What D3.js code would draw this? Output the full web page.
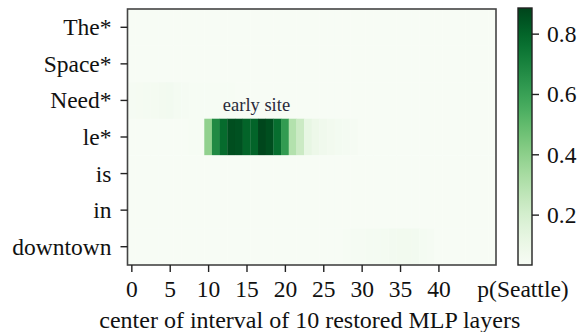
<!DOCTYPE html>
<html>
<head>
<meta charset="utf-8"/>
<title>Restored MLP heatmap</title>
<script src="https://cdn.jsdelivr.net/npm/d3@7"></script>
<style>
 body { margin: 0; background: #fff; }
 svg, svg g, svg text { font-family: "Liberation Serif", "DejaVu Serif", serif !important; }
 svg text { fill: #111; }
</style>
</head>
<body>
<div id="chart"></div>
<script>
// tokens on the y axis, top to bottom
var tokens = ["The*", "Space*", "Need*", "le*", "is", "in", "downtown"];
// layer index of each column (center of restored interval)
var layers = d3.range(48);
var xTicks = [0, 5, 10, 15, 20, 25, 30, 35, 40];
var cbarTicks = [0.2, 0.4, 0.6, 0.8];

// p(Seattle) per token row, one value per layer column
var rowThe = [0.035,0.035,0.035,0.035,0.035,0.035,0.035,0.035,0.035,0.035,0.035,0.035,0.035,0.035,0.035,0.035,0.035,0.035,0.035,0.035,0.035,0.035,0.035,0.035,0.035,0.035,0.035,0.035,0.035,0.035,0.035,0.035,0.035,0.035,0.035,0.035,0.035,0.035,0.035,0.035,0.035,0.035,0.035,0.035,0.035,0.035,0.035,0.035];
var rowSpace = [0.035,0.035,0.035,0.035,0.035,0.035,0.035,0.035,0.035,0.035,0.035,0.035,0.035,0.035,0.035,0.035,0.035,0.035,0.035,0.035,0.035,0.035,0.035,0.035,0.035,0.035,0.035,0.035,0.035,0.035,0.035,0.035,0.035,0.035,0.035,0.035,0.035,0.035,0.035,0.035,0.035,0.035,0.035,0.035,0.035,0.035,0.035,0.035];
var rowNeed = [0.045,0.047,0.05,0.052,0.058,0.06,0.05,0.043,0.036,0.037,0.04,0.04,0.04,0.038,0.035,0.035,0.035,0.035,0.035,0.035,0.035,0.035,0.035,0.035,0.035,0.035,0.035,0.035,0.035,0.035,0.035,0.035,0.035,0.035,0.035,0.035,0.035,0.035,0.035,0.035,0.035,0.035,0.035,0.035,0.035,0.035,0.035,0.035];
var rowLe = [0.035,0.035,0.035,0.035,0.035,0.035,0.035,0.035,0.038,0.04,0.39,0.68,0.78,0.86,0.85,0.8,0.8,0.88,0.86,0.77,0.62,0.3,0.23,0.12,0.09,0.075,0.065,0.055,0.05,0.045,0.035,0.035,0.035,0.035,0.035,0.035,0.035,0.035,0.035,0.035,0.035,0.035,0.035,0.035,0.035,0.035,0.035,0.035];
var rowIs = [0.035,0.035,0.035,0.035,0.035,0.035,0.035,0.035,0.035,0.035,0.035,0.035,0.035,0.035,0.035,0.035,0.035,0.035,0.035,0.035,0.035,0.035,0.035,0.035,0.035,0.035,0.035,0.035,0.035,0.035,0.035,0.035,0.035,0.035,0.035,0.035,0.035,0.035,0.035,0.035,0.035,0.035,0.035,0.035,0.035,0.035,0.035,0.035];
var rowIn = [0.035,0.035,0.035,0.035,0.035,0.035,0.035,0.035,0.035,0.035,0.035,0.035,0.035,0.035,0.035,0.035,0.035,0.035,0.035,0.035,0.035,0.035,0.035,0.035,0.035,0.035,0.035,0.035,0.035,0.035,0.035,0.035,0.035,0.035,0.035,0.035,0.035,0.035,0.035,0.035,0.035,0.035,0.035,0.035,0.035,0.035,0.035,0.035];
var rowDowntown = [0.035,0.035,0.035,0.035,0.035,0.035,0.035,0.035,0.035,0.035,0.035,0.035,0.035,0.035,0.035,0.035,0.035,0.035,0.035,0.035,0.035,0.035,0.035,0.035,0.035,0.035,0.035,0.035,0.04,0.042,0.045,0.048,0.05,0.055,0.06,0.065,0.065,0.06,0.05,0.042,0.035,0.035,0.035,0.035,0.035,0.035,0.035,0.035];
var rows = [rowThe, rowSpace, rowNeed, rowLe, rowIs, rowIn, rowDowntown];

var valueMin = 0.033, valueMax = 0.885;
var annotText = "early site", annotLayer = 16.3, annotToken = "le*";

var W = 580, H = 332;
var fs = 23.5;
var plot = {left: 127.5, right: 496, top: 9, bottom: 265};
var cbar = {left: 518, right: 532, top: 8, bottom: 265};

var svg = d3.select("#chart").append("svg")
    .attr("width", W).attr("height", H);

var x = d3.scaleLinear().domain([-0.5, 47.5]).range([plot.left, plot.right]);
var y = d3.scaleBand().domain(tokens).range([plot.top, plot.bottom]);
var color = d3.scaleSequential(d3.interpolateGreens).domain([valueMin, valueMax]);

// flatten into cells
var cells = [];
rows.forEach(function(r, ri) {
  r.forEach(function(v, li) {
    cells.push({token: tokens[ri], layer: layers[li], value: v});
  });
});

svg.append("g").selectAll("rect")
  .data(cells).enter().append("rect")
  .attr("x", function(d) { return x(d.layer - 0.5); })
  .attr("y", function(d) { return y(d.token); })
  .attr("width", function(d) { return x(d.layer + 0.5) - x(d.layer - 0.5) + 0.3; })
  .attr("height", y.bandwidth() + 0.3)
  .attr("fill", function(d) { return color(d.value); });

svg.append("rect")
  .attr("x", plot.left).attr("y", plot.top)
  .attr("width", plot.right - plot.left).attr("height", plot.bottom - plot.top)
  .attr("fill", "none").attr("stroke", "#444").attr("stroke-width", 1.6);

// axes
var yAxis = svg.append("g")
  .attr("transform", "translate(" + plot.left + ",0)")
  .call(d3.axisLeft(y).tickSize(7).tickPadding(9));
var xAxis = svg.append("g")
  .attr("transform", "translate(0," + plot.bottom + ")")
  .call(d3.axisBottom(x).tickValues(xTicks).tickSize(7).tickPadding(8));
[xAxis, yAxis].forEach(function(g) {
  g.attr("font-family", null);
  g.select(".domain").remove();
  g.selectAll("line").attr("stroke", "#222").attr("stroke-width", 1.4);
  g.selectAll("text").attr("font-size", fs).attr("fill", "#111");
});
yAxis.selectAll("text").attr("dy", "0.34em");

svg.append("text")
  .attr("x", (plot.left + plot.right) / 2 - 2).attr("y", 328)
  .attr("text-anchor", "middle").attr("font-size", 24)
  .text("center of interval of 10 restored MLP layers");

svg.append("text")
  .attr("x", x(annotLayer)).attr("y", y(annotToken) - 8)
  .attr("text-anchor", "middle").attr("font-size", 18.5).style("fill", "#2a2a3a")
  .text(annotText);

// colorbar
var cy = d3.scaleLinear().domain([valueMin, valueMax]).range([cbar.bottom, cbar.top]);
var grad = svg.append("defs").append("linearGradient")
  .attr("id", "cbgrad").attr("x1", 0).attr("y1", 1).attr("x2", 0).attr("y2", 0);
grad.selectAll("stop").data(d3.range(0, 1.0001, 0.05)).enter().append("stop")
  .attr("offset", function(t) { return t; })
  .attr("stop-color", function(t) { return color(valueMin + t * (valueMax - valueMin)); });
svg.append("rect")
  .attr("x", cbar.left).attr("y", cbar.top)
  .attr("width", cbar.right - cbar.left).attr("height", cbar.bottom - cbar.top)
  .attr("fill", "url(#cbgrad)").attr("stroke", "#222").attr("stroke-width", 1.4);
var cAxis = svg.append("g")
  .attr("transform", "translate(" + cbar.right + ",0)")
  .call(d3.axisRight(cy).tickValues(cbarTicks).tickFormat(d3.format(".1f")).tickSize(7).tickPadding(8));
cAxis.attr("font-family", null);
cAxis.select(".domain").remove();
cAxis.selectAll("line").attr("stroke", "#222").attr("stroke-width", 1.4);
cAxis.selectAll("text").attr("font-size", fs).attr("fill", "#111").attr("dy", "0.34em");

svg.append("text")
  .attr("x", (cbar.left + cbar.right) / 2 - 2).attr("y", 297)
  .attr("text-anchor", "middle").attr("font-size", fs)
  .text("p(Seattle)");
</script>
</body>
</html>
